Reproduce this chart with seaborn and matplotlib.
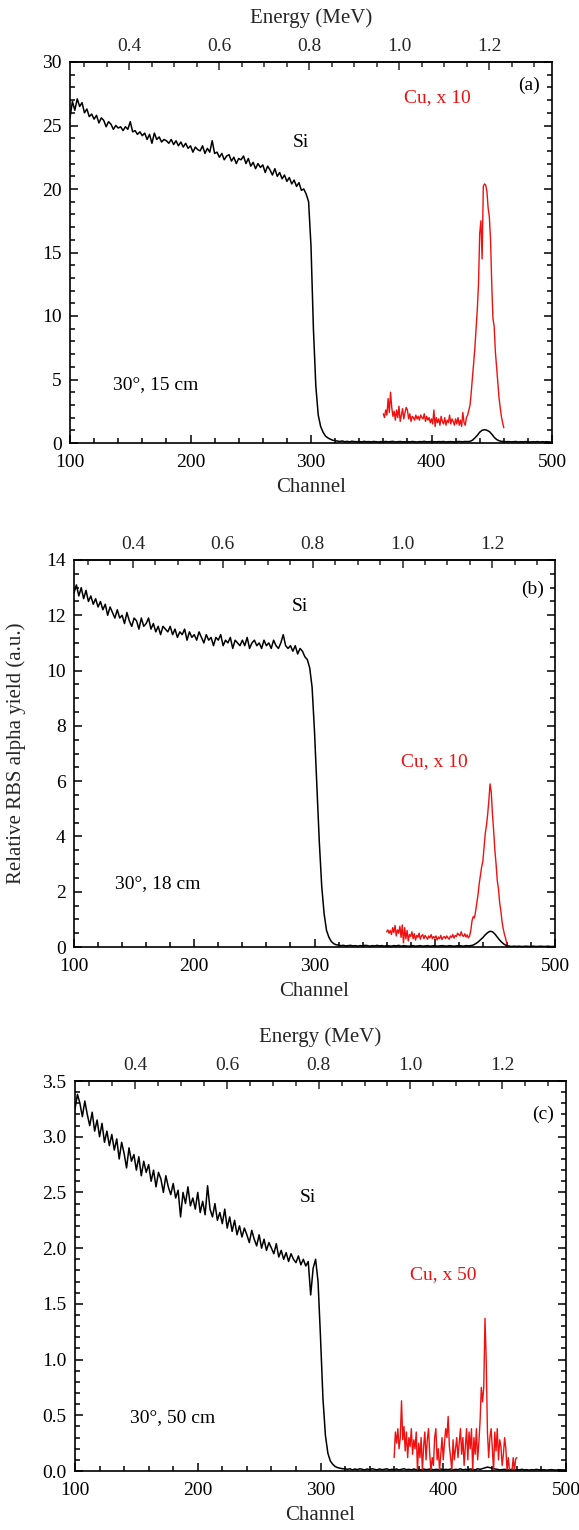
import numpy as np
import matplotlib
matplotlib.use("Agg")
import matplotlib.pyplot as plt
import seaborn as sns
from matplotlib.ticker import MultipleLocator, FixedLocator

# ---------------- data ----------------
channel_si = np.arange(100, 501, 2)   # channel grid of the Si (black) spectra
channel_cu = np.arange(360, 461, 1)   # channel grid of the magnified Cu (red) spectra

si_a = [
    25.6, 26.9, 26.2, 27.1, 26.5, 26.8, 26.0, 26.3, 25.7, 25.9,
    25.5, 25.8, 25.2, 25.6, 25.4, 24.9, 25.3, 25.1, 24.7, 25.0,
    24.8, 24.9, 24.6, 24.9, 24.7, 25.3, 24.5, 24.6, 24.3, 24.5,
    24.2, 24.4, 23.9, 24.3, 23.6, 24.4, 23.9, 24.1, 23.7, 23.9,
    23.8, 23.6, 23.9, 23.5, 23.8, 23.4, 23.7, 23.3, 23.6, 23.2,
    23.4, 22.9, 23.3, 23.1, 23.0, 23.4, 22.8, 23.2, 22.9, 23.8,
    22.8, 22.9, 22.5, 22.8, 22.3, 22.6, 22.7, 22.2, 22.5, 22.0,
    22.4, 22.3, 22.6, 22.0, 22.4, 21.8, 22.1, 21.6, 22.0, 21.7,
    21.9, 21.3, 21.8, 21.5, 21.1, 21.6, 21.0, 21.3, 20.8, 21.1,
    20.6, 20.9, 20.4, 20.7, 20.2, 20.5, 19.9, 20.0, 19.6, 19.0,
    15.5, 9.0, 4.5, 2.2, 1.3, 0.85, 0.55, 0.4, 0.3, 0.22,
    0.18, 0.15, 0.12, 0.16, 0.1, 0.13, 0.09, 0.14, 0.11, 0.1,
    0.12, 0.08, 0.13, 0.1, 0.11, 0.09, 0.12, 0.1, 0.08, 0.11,
    0.1, 0.12, 0.09, 0.11, 0.13, 0.08, 0.1, 0.12, 0.09, 0.1,
    0.11, 0.09, 0.12, 0.1, 0.08, 0.11, 0.1, 0.13, 0.09, 0.1,
    0.12, 0.1, 0.09, 0.11, 0.1, 0.12, 0.08, 0.1, 0.11, 0.09,
    0.1, 0.12, 0.11, 0.1, 0.12, 0.11, 0.13, 0.22, 0.4, 0.6,
    0.85, 1.0, 1.05, 1.0, 0.9, 0.7, 0.45, 0.28, 0.18, 0.13,
    0.12, 0.1, 0.11, 0.09, 0.1, 0.12, 0.08, 0.1, 0.09, 0.11,
    0.1, 0.08, 0.1, 0.09, 0.11, 0.08, 0.1, 0.09, 0.1, 0.08,
    0.09,
]
cu_a = [
    2.3, 2.0, 2.6, 2.2, 3.5, 2.4, 4.0, 2.8, 2.1, 2.5,
    1.8, 2.6, 2.0, 2.9, 1.7, 2.2, 2.7, 1.9, 2.4, 2.8,
    2.6, 1.9, 2.3, 1.7, 2.1, 2.0, 1.8, 2.2, 1.9, 2.1,
    1.8, 2.2, 2.0, 1.9, 2.3, 1.7, 2.1, 1.8, 2.0, 1.6,
    1.9, 1.5, 2.6, 1.3, 2.0, 1.6, 1.9, 1.4, 2.1, 1.7,
    1.5, 2.0, 1.4, 1.8, 1.6, 2.2, 1.5, 1.9, 1.7, 1.4,
    1.9, 1.5, 2.0, 1.4, 1.8, 1.3, 2.4, 1.6, 1.4, 2.0,
    2.2, 2.6, 3.0, 4.0, 5.2, 6.3, 7.5, 9.0, 10.5, 12.5,
    16.5, 17.5, 14.5, 20.2, 20.4, 20.3, 19.8, 18.5, 17.8, 16.0,
    12.5, 9.8, 9.2, 7.2, 6.0, 4.8, 3.6, 2.8, 2.1, 1.6,
    1.2,
]

si_b = [
    12.8, 13.1, 12.7, 13.0, 12.6, 12.9, 12.5, 12.7, 12.4, 12.6,
    12.3, 12.5, 12.2, 12.4, 12.0, 12.3, 12.1, 11.9, 12.2, 11.9,
    12.0, 11.7, 12.1, 11.8, 11.6, 11.9, 11.8, 11.5, 11.9, 11.6,
    11.7, 11.9, 11.5, 11.7, 11.4, 11.6, 11.3, 11.6, 11.5, 11.4,
    11.6, 11.3, 11.5, 11.2, 11.4, 11.3, 11.5, 11.1, 11.4, 11.2,
    11.3, 11.1, 11.4, 11.2, 11.0, 11.3, 11.1, 11.2, 10.9, 11.2,
    11.1, 11.3, 10.9, 11.1, 11.0, 11.2, 10.8, 11.1, 11.0, 10.9,
    11.1, 10.9, 11.2, 10.8, 11.0, 11.1, 10.9, 11.0, 10.8, 11.1,
    10.9, 11.0, 10.8, 11.1, 10.9, 10.8, 11.0, 11.3, 10.9, 10.8,
    10.9, 10.7, 10.9, 10.6, 10.8, 10.7, 10.5, 10.4, 10.1, 9.4,
    7.8, 5.8, 3.8, 2.2, 1.2, 0.6, 0.35, 0.2, 0.12, 0.08,
    0.07, 0.05, 0.06, 0.04, 0.05, 0.06, 0.04, 0.05, 0.03, 0.05,
    0.04, 0.06, 0.05, 0.03, 0.05, 0.04, 0.06, 0.04, 0.05, 0.03,
    0.05, 0.04, 0.03, 0.05, 0.04, 0.06, 0.03, 0.05, 0.04, 0.03,
    0.04, 0.05, 0.03, 0.04, 0.05, 0.03, 0.04, 0.05, 0.03, 0.04,
    0.05, 0.03, 0.04, 0.05, 0.04, 0.03, 0.05, 0.04, 0.03, 0.04,
    0.05, 0.04, 0.03, 0.05, 0.04, 0.05, 0.07, 0.12, 0.18, 0.26,
    0.34, 0.44, 0.52, 0.57, 0.55, 0.47, 0.36, 0.25, 0.16, 0.09,
    0.05, 0.03, 0.02, 0.03, 0.02, 0.03, 0.02, 0.02, 0.03, 0.02,
    0.02, 0.03, 0.02, 0.02, 0.03, 0.02, 0.02, 0.03, 0.02, 0.02,
    0.02,
]
cu_b = [
    0.55, 0.62, 0.5, 0.6, 0.45, 0.7, 0.52, 0.78, 0.4, 0.62,
    0.5, 0.75, 0.35, 0.8, 0.15, 0.7, 0.3, 0.6, 0.22, 0.45,
    0.38, 0.55, 0.3, 0.48, 0.25, 0.42, 0.35, 0.5, 0.28, 0.4,
    0.45, 0.3, 0.42, 0.35, 0.28, 0.4, 0.33, 0.45, 0.3, 0.38,
    0.32, 0.4, 0.25, 0.36, 0.3, 0.42, 0.27, 0.35, 0.38, 0.3,
    0.4, 0.33, 0.28, 0.4, 0.35, 0.45, 0.32, 0.42, 0.38, 0.5,
    0.45, 0.4, 0.55, 0.42, 0.38, 0.48, 0.36, 0.44, 0.33, 0.4,
    0.6, 0.95, 1.1, 1.05, 1.3, 1.6, 1.9, 2.3, 2.6, 2.9,
    3.1, 3.6, 4.1, 4.4, 4.8, 5.3, 5.9, 5.6, 4.8, 4.2,
    3.5, 3.0, 2.4, 2.1, 1.6, 1.3, 0.9, 0.65, 0.45, 0.3,
    0.1,
]

si_c = [
    3.25, 3.38, 3.3, 3.18, 3.32, 3.2, 3.1, 3.22, 3.05, 3.15,
    3.0, 3.12, 2.95, 3.05, 2.92, 3.02, 2.88, 2.98, 2.8, 2.95,
    2.85, 2.72, 2.9, 2.78, 2.84, 2.7, 2.82, 2.65, 2.78, 2.68,
    2.75, 2.6, 2.7, 2.55, 2.68, 2.62, 2.5, 2.65, 2.55, 2.48,
    2.58, 2.45, 2.52, 2.28, 2.5, 2.4, 2.55, 2.38, 2.45, 2.35,
    2.5, 2.32, 2.42, 2.3, 2.56, 2.35, 2.28, 2.4, 2.25, 2.32,
    2.22, 2.35, 2.18, 2.28, 2.15, 2.25, 2.12, 2.2, 2.1, 2.18,
    2.12, 2.05, 2.16, 2.08, 2.02, 2.12, 2.0, 2.08, 1.98, 2.05,
    2.0, 1.95, 2.04, 1.92, 1.98, 1.9, 1.96, 1.88, 1.95, 1.9,
    1.87, 1.93, 1.85, 1.9, 1.84, 1.88, 1.58, 1.82, 1.9, 1.7,
    1.2, 0.65, 0.32, 0.16, 0.09, 0.06, 0.04, 0.03, 0.025, 0.02,
    0.02, 0.015, 0.02, 0.01, 0.018, 0.012, 0.02, 0.015, 0.01, 0.018,
    0.012, 0.02, 0.015, 0.01, 0.018, 0.012, 0.015, 0.02, 0.01, 0.015,
    0.012, 0.018, 0.01, 0.015, 0.02, 0.012, 0.015, 0.01, 0.018, 0.012,
    0.015, 0.01, 0.018, 0.012, 0.015, 0.02, 0.01, 0.015, 0.012, 0.018,
    0.01, 0.015, 0.012, 0.018, 0.01, 0.015, 0.012, 0.02, 0.01, 0.015,
    0.012, 0.018, 0.015, 0.01, 0.02, 0.015, 0.022, 0.028, 0.035, 0.03,
    0.025, 0.018, 0.015, 0.01, 0.012, 0.015, 0.01, 0.012, 0.015, 0.01,
    0.012, 0.01, 0.015, 0.01, 0.012, 0.008, 0.012, 0.01, 0.015, 0.01,
    0.01, 0.012, 0.008, 0.01, 0.012, 0.01, 0.008, 0.012, 0.01, 0.01,
    0.01,
]
cu_c = [
    0.12, 0.35, 0.25, 0.38, 0.2, 0.3, 0.63, 0.28, 0.4, 0.18,
    0.35, 0.12, 0.3, 0.22, 0.38, 0.15, 0.28, 0.2, 0.35, 0.0,
    0.25, 0.12, 0.3, 0.0, 0.22, 0.35, 0.1, 0.28, 0.38, 0.15,
    0.0, 0.12, 0.05, 0.3, 0.38, 0.1, 0.2, 0.0, 0.15, 0.3,
    0.1, 0.25, 0.38, 0.3, 0.49, 0.22, 0.12, 0.0, 0.28, 0.1,
    0.2, 0.3, 0.12, 0.25, 0.38, 0.15, 0.3, 0.05, 0.22, 0.38,
    0.1, 0.35, 0.2, 0.38, 0.0, 0.3, 0.15, 0.38, 0.1, 0.25,
    0.45, 0.75, 0.62, 0.75, 1.37, 1.0, 0.35, 0.12, 0.3, 0.38,
    0.2, 0.0, 0.35, 0.18, 0.38, 0.1, 0.28, 0.22, 0.05, 0.15,
    0.3, 0.2, 0.0, 0.12, 0.0, 0.0, 0.0, 0.12, 0.0, 0.11,
    0.12,
]

panel_tags = ["(a)", "(b)", "(c)"]
geometry_labels = ["30°, 15 cm", "30°, 18 cm", "30°, 50 cm"]
cu_labels = ["Cu, x 10", "Cu, x 10", "Cu, x 50"]
energy_ticks = [0.4, 0.6, 0.8, 1.0, 1.2]
channel_ticks = [100, 200, 300, 400, 500]

# ---------------- style ----------------
sns.set_theme(style="ticks")
plt.rcParams["font.family"] = ["Liberation Serif", "DejaVu Serif"]
plt.rcParams["axes.linewidth"] = 1.2
RED = "#f01010"

def ch2e(ch):
    return 0.4 + (np.asarray(ch) - 149.0) * 0.002676

def e2ch(e):
    return 149.0 + (np.asarray(e) - 0.4) / 0.002676

fig = plt.figure(figsize=(5.79, 15.30), dpi=100)
W, H = 579.0, 1530.0

def box(l, r, t, b):
    return [l / W, (H - b) / H, (r - l) / W, (b - t) / H]

panels = [
    dict(rect=box(70, 552, 62, 443), si=si_a, cu=cu_a, ymax=30, maj=5, mnr=1, fmt="{:.0f}",
         energy_label=True, si_pos=(292, 23.7), tag_pos=(472, 28.2), cu_pos=(405, 27.2), geo_pos=(136, 4.6)),
    dict(rect=box(74, 555, 560, 947), si=si_b, cu=cu_b, ymax=14, maj=2, mnr=0.5, fmt="{:.0f}",
         energy_label=False, si_pos=(288, 12.3), tag_pos=(472, 12.95), cu_pos=(400, 6.7), geo_pos=(134, 2.3)),
    dict(rect=box(75, 566, 1081, 1471), si=si_c, cu=cu_c, ymax=3.5, maj=0.5, mnr=0.1, fmt="{:.1f}",
         energy_label=True, si_pos=(290, 2.45), tag_pos=(472, 3.2), cu_pos=(400, 1.76), geo_pos=(145, 0.48)),
]

for i, p in enumerate(panels):
    ax = fig.add_axes(p["rect"])
    sns.lineplot(x=channel_si, y=p["si"], ax=ax, color="black", lw=1.1, errorbar=None)
    sns.lineplot(x=channel_cu, y=p["cu"], ax=ax, color=RED, lw=1.0, errorbar=None)
    ax.set_xlim(100, 500)
    ax.set_ylim(0, p["ymax"])
    ax.xaxis.set_major_locator(FixedLocator(channel_ticks))
    ax.xaxis.set_minor_locator(MultipleLocator(20))
    yt = np.arange(0, p["ymax"] + 1e-9, p["maj"])
    ax.set_yticks(yt)
    ax.set_yticklabels([p["fmt"].format(v) for v in yt])
    ax.yaxis.set_minor_locator(MultipleLocator(p["mnr"]))
    ax.set_xticklabels([str(v) for v in channel_ticks])
    ax.tick_params(axis="both", which="both", direction="in", top=False, right=True,
                   labelsize=14, width=1.1, colors="black")
    ax.tick_params(axis="x", which="major", pad=8)
    ax.tick_params(axis="y", which="major", pad=6)
    ax.tick_params(which="major", length=6)
    ax.tick_params(which="minor", length=3.5)
    for s in ax.spines.values():
        s.set_visible(True)
        s.set_color("black")
        s.set_linewidth(1.2)
    ax.set_xlabel("Channel", fontsize=15, labelpad=5)
    ax.set_ylabel("")

    sec = ax.secondary_xaxis("top", functions=(ch2e, e2ch))
    sec.xaxis.set_major_locator(FixedLocator(energy_ticks))
    sec.xaxis.set_minor_locator(MultipleLocator(0.05))
    sec.set_xticklabels([f"{v:.1f}" for v in energy_ticks])
    sec.tick_params(axis="x", which="both", direction="in", labelsize=14, width=1.1, pad=5)
    sec.tick_params(which="major", length=6)
    sec.tick_params(which="minor", length=3.5)
    if p["energy_label"]:
        sec.set_xlabel("Energy (MeV)", fontsize=15, labelpad=11)

    ax.text(*p["si_pos"], "Si", fontsize=14, ha="center", va="center", color="black")
    ax.text(*p["tag_pos"], panel_tags[i], fontsize=14, ha="left", va="center", color="black")
    ax.text(*p["cu_pos"], cu_labels[i], fontsize=14, ha="center", va="center", color=RED)
    ax.text(*p["geo_pos"], geometry_labels[i], fontsize=14, ha="left", va="center", color="black")

    if i == 1:
        ax.set_ylabel("Relative RBS alpha yield (a.u.)", fontsize=15, labelpad=14)

fig.savefig("out.png", dpi=100)
